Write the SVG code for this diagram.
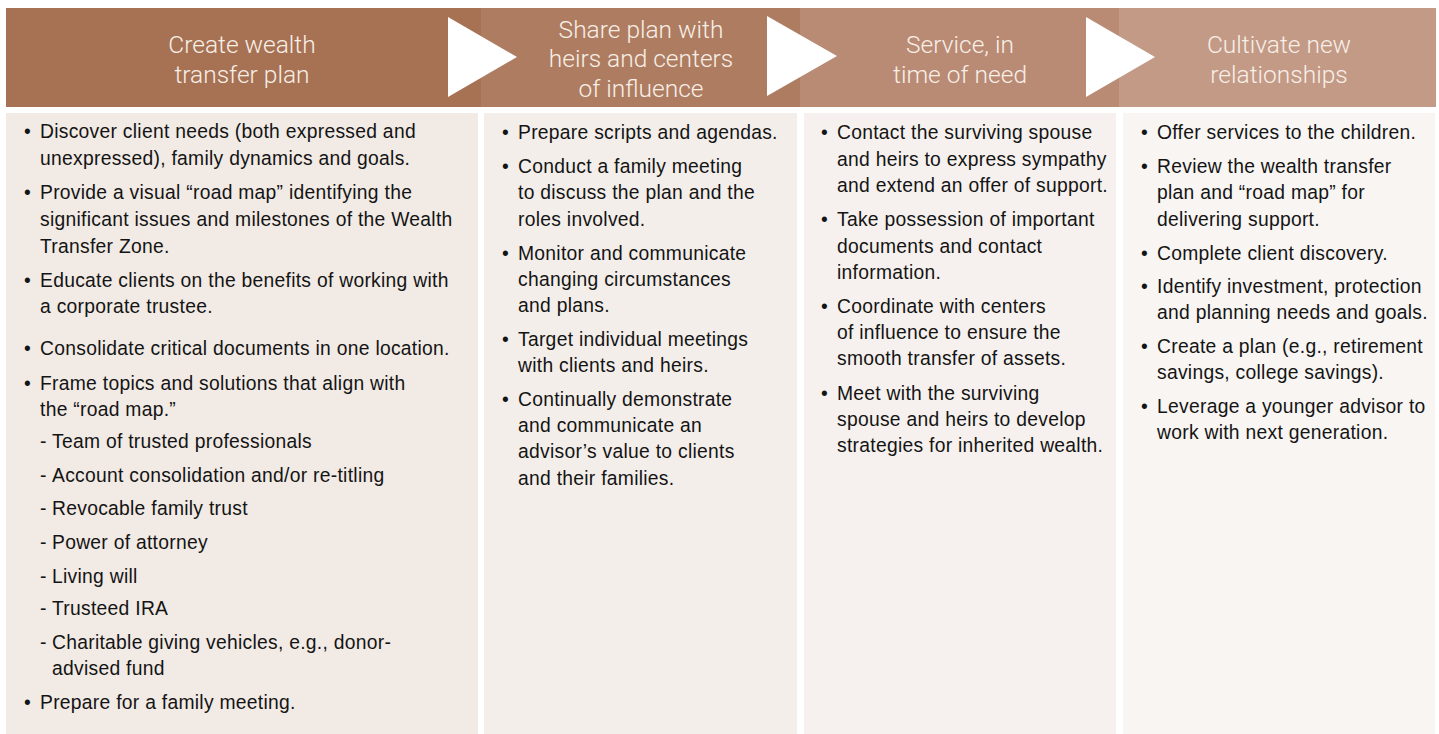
<svg xmlns="http://www.w3.org/2000/svg" width="1439" height="734" viewBox="0 0 1439 734">
  <style>
    .hd { font-family: Roboto, "Liberation Sans", sans-serif; font-weight: 300; font-size: 24.5px; fill: #f8efe8; text-anchor: middle; }
    .bd { font-family: "Liberation Sans", Arial, sans-serif; font-size: 19.3px; fill: #141414; letter-spacing: 0.28px; }
    .arrow { fill: #ffffff; }
  </style>
  <rect width="1439" height="734" fill="#ffffff"/>

  <!-- Stage 1 -->
  <g id="stage-create-plan">
    <rect x="6" y="8" width="475" height="99" fill="#a67253"/>
    <rect x="6" y="113" width="472" height="621" fill="#f1eae5"/>
    <text class="hd"><tspan x="242" y="52.5">Create wealth</tspan><tspan x="242" y="82.5">transfer plan</tspan></text>
    <text class="bd">
      <tspan x="24" y="138">•</tspan><tspan x="40" y="138">Discover client needs (both expressed and</tspan>
      <tspan x="40" y="164.5">unexpressed), family dynamics and goals.</tspan>
      <tspan x="24" y="199">•</tspan><tspan x="40" y="199">Provide a visual “road map” identifying the</tspan>
      <tspan x="40" y="226">significant issues and milestones of the Wealth</tspan>
      <tspan x="40" y="252.5">Transfer Zone.</tspan>
      <tspan x="24" y="286.5">•</tspan><tspan x="40" y="286.5">Educate clients on the benefits of working with</tspan>
      <tspan x="40" y="313">a corporate trustee.</tspan>
      <tspan x="24" y="355">•</tspan><tspan x="40" y="355">Consolidate critical documents in one location.</tspan>
      <tspan x="24" y="390">•</tspan><tspan x="40" y="390">Frame topics and solutions that align with</tspan>
      <tspan x="40" y="415.5">the “road map.”</tspan>
      <tspan x="40" y="448">-</tspan><tspan x="52" y="448">Team of trusted professionals</tspan>
      <tspan x="40" y="482">-</tspan><tspan x="52" y="482">Account consolidation and/or re-titling</tspan>
      <tspan x="40" y="515">-</tspan><tspan x="52" y="515">Revocable family trust</tspan>
      <tspan x="40" y="549">-</tspan><tspan x="52" y="549">Power of attorney</tspan>
      <tspan x="40" y="582.5">-</tspan><tspan x="52" y="582.5">Living will</tspan>
      <tspan x="40" y="615">-</tspan><tspan x="52" y="615">Trusteed IRA</tspan>
      <tspan x="40" y="649">-</tspan><tspan x="52" y="649">Charitable giving vehicles, e.g., donor-</tspan>
      <tspan x="52" y="675">advised fund</tspan>
      <tspan x="24" y="709">•</tspan><tspan x="40" y="709">Prepare for a family meeting.</tspan>
    </text>
  </g>

  <!-- Stage 2 -->
  <g id="stage-share-plan">
    <rect x="481" y="8" width="319" height="99" fill="#ae7d61"/>
    <rect x="484" y="113" width="313" height="621" fill="#f3eeea"/>
    <text class="hd"><tspan x="641" y="37.5">Share plan with</tspan><tspan x="641" y="67">heirs and centers</tspan><tspan x="641" y="96.5">of influence</tspan></text>
    <text class="bd">
      <tspan x="502" y="138.5">•</tspan><tspan x="518" y="138.5">Prepare scripts and agendas.</tspan>
      <tspan x="502" y="172.5">•</tspan><tspan x="518" y="172.5">Conduct a family meeting</tspan>
      <tspan x="518" y="199">to discuss the plan and the</tspan>
      <tspan x="518" y="226">roles involved.</tspan>
      <tspan x="502" y="259.5">•</tspan><tspan x="518" y="259.5">Monitor and communicate</tspan>
      <tspan x="518" y="285.5">changing circumstances</tspan>
      <tspan x="518" y="311.5">and plans.</tspan>
      <tspan x="502" y="345.5">•</tspan><tspan x="518" y="345.5">Target individual meetings</tspan>
      <tspan x="518" y="371.5">with clients and heirs.</tspan>
      <tspan x="502" y="406">•</tspan><tspan x="518" y="406">Continually demonstrate</tspan>
      <tspan x="518" y="432">and communicate an</tspan>
      <tspan x="518" y="458">advisor’s value to clients</tspan>
      <tspan x="518" y="484.5">and their families.</tspan>
    </text>
  </g>

  <!-- Stage 3 -->
  <g id="stage-service">
    <rect x="800" y="8" width="319" height="99" fill="#b98b74"/>
    <rect x="804" y="113" width="312" height="621" fill="#f6f1ee"/>
    <text class="hd"><tspan x="960" y="52.5">Service, in</tspan><tspan x="960" y="82.5">time of need</tspan></text>
    <text class="bd">
      <tspan x="821" y="139">•</tspan><tspan x="837" y="139">Contact the surviving spouse</tspan>
      <tspan x="837" y="165.5">and heirs to express sympathy</tspan>
      <tspan x="837" y="192">and extend an offer of support.</tspan>
      <tspan x="821" y="226">•</tspan><tspan x="837" y="226">Take possession of important</tspan>
      <tspan x="837" y="252.5">documents and contact</tspan>
      <tspan x="837" y="278.5">information.</tspan>
      <tspan x="821" y="312.5">•</tspan><tspan x="837" y="312.5">Coordinate with centers</tspan>
      <tspan x="837" y="338.5">of influence to ensure the</tspan>
      <tspan x="837" y="365">smooth transfer of assets.</tspan>
      <tspan x="821" y="399.5">•</tspan><tspan x="837" y="399.5">Meet with the surviving</tspan>
      <tspan x="837" y="425.5">spouse and heirs to develop</tspan>
      <tspan x="837" y="452">strategies for inherited wealth.</tspan>
    </text>
  </g>

  <!-- Stage 4 -->
  <g id="stage-cultivate">
    <rect x="1119" y="8" width="317" height="99" fill="#c39a86"/>
    <rect x="1123" y="113" width="312" height="621" fill="#f8f5f3"/>
    <text class="hd"><tspan x="1279" y="52.5">Cultivate new</tspan><tspan x="1279" y="82.5">relationships</tspan></text>
    <text class="bd">
      <tspan x="1141" y="138.5">•</tspan><tspan x="1157" y="138.5">Offer services to the children.</tspan>
      <tspan x="1141" y="172.5">•</tspan><tspan x="1157" y="172.5">Review the wealth transfer</tspan>
      <tspan x="1157" y="199">plan and “road map” for</tspan>
      <tspan x="1157" y="226">delivering support.</tspan>
      <tspan x="1141" y="259.5">•</tspan><tspan x="1157" y="259.5">Complete client discovery.</tspan>
      <tspan x="1141" y="292.5">•</tspan><tspan x="1157" y="292.5">Identify investment, protection</tspan>
      <tspan x="1157" y="319">and planning needs and goals.</tspan>
      <tspan x="1141" y="352.5">•</tspan><tspan x="1157" y="352.5">Create a plan (e.g., retirement</tspan>
      <tspan x="1157" y="379">savings, college savings).</tspan>
      <tspan x="1141" y="412.5">•</tspan><tspan x="1157" y="412.5">Leverage a younger advisor to</tspan>
      <tspan x="1157" y="439">work with next generation.</tspan>
    </text>
  </g>

  <!-- Chevrons linking the stages -->
  <g id="connectors">
    <polygon class="arrow" points="448,17 517,57 448,97"/>
    <polygon class="arrow" points="767,16 837,56 767,96"/>
    <polygon class="arrow" points="1086,17 1155,57 1086,97"/>
  </g>
</svg>
